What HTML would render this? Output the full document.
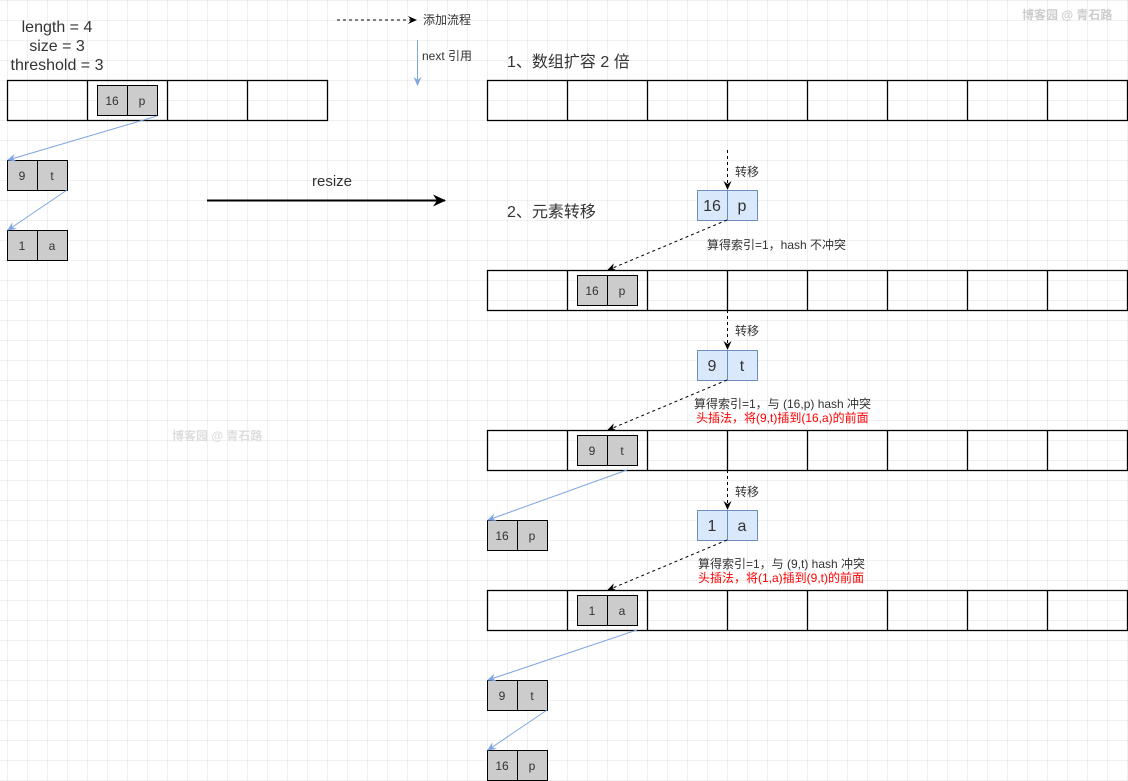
<!DOCTYPE html>
<html><head><meta charset="utf-8"><style>
html,body{margin:0;padding:0;background:#fff}
svg{display:block}
text{font-family:"Liberation Sans","Noto Sans CJK SC",sans-serif;fill:#333}
</style></head><body>
<svg width="1128" height="781" xmlns="http://www.w3.org/2000/svg">
<defs>
<pattern id="g" x="7" y="0" width="20" height="20" patternUnits="userSpaceOnUse">
<path d="M0 0V20M0 0H20" stroke="#e2e2e2" stroke-width="1" fill="none"/>
</pattern>
<marker id="ab" markerWidth="10" markerHeight="10" refX="8" refY="5" orient="auto" markerUnits="userSpaceOnUse"><path d="M0,1 L9,5 L0,9 L3,5z" fill="#000"/></marker>
<marker id="abl" markerWidth="10" markerHeight="10" refX="8" refY="5" orient="auto" markerUnits="userSpaceOnUse"><path d="M0,1 L9,5 L0,9 L3,5z" fill="#7ea6e0"/></marker>
<marker id="abig" markerWidth="14" markerHeight="14" refX="12" refY="7" orient="auto" markerUnits="userSpaceOnUse"><path d="M0,1 L13,7 L0,13 L4,7z" fill="#000"/></marker>
</defs>
<rect width="1128" height="781" fill="url(#g)"/>

<g font-size="16" text-anchor="middle">
<text x="57" y="32">length = 4</text>
<text x="57" y="51">size = 3</text>
<text x="57" y="70">threshold = 3</text>
</g>

<g fill="none" stroke="#000" stroke-width="1.3">
<rect x="7.5" y="80.5" width="320" height="40"/>
<path d="M87.5 80v40M167.5 80v40M247.5 80v40"/>
<rect x="487.5" y="80.5" width="640" height="40"/>
<rect x="487.5" y="270.5" width="640" height="40"/>
<rect x="487.5" y="430.5" width="640" height="40"/>
<rect x="487.5" y="590.5" width="640" height="40"/>
<path d="M567.5 80v40M647.5 80v40M727.5 80v40M807.5 80v40M887.5 80v40M967.5 80v40M1047.5 80v40"/>
<path d="M567.5 270v40M647.5 270v40M727.5 270v40M807.5 270v40M887.5 270v40M967.5 270v40M1047.5 270v40"/>
<path d="M567.5 430v40M647.5 430v40M727.5 430v40M807.5 430v40M887.5 430v40M967.5 430v40M1047.5 430v40"/>
<path d="M567.5 590v40M647.5 590v40M727.5 590v40M807.5 590v40M887.5 590v40M967.5 590v40M1047.5 590v40"/>
</g>

<g font-size="12" text-anchor="middle">
<g transform="translate(97,85)"><rect x=".5" y=".5" width="60" height="30" fill="#ccc" stroke="#000"/><path d="M30.5 0v31" stroke="#000"/><text x="15" y="20">16</text><text x="45" y="20">p</text></g>
<g transform="translate(7,160)"><rect x=".5" y=".5" width="60" height="30" fill="#ccc" stroke="#000"/><path d="M30.5 0v31" stroke="#000"/><text x="15" y="20">9</text><text x="45" y="20">t</text></g>
<g transform="translate(7,230)"><rect x=".5" y=".5" width="60" height="30" fill="#ccc" stroke="#000"/><path d="M30.5 0v31" stroke="#000"/><text x="15" y="20">1</text><text x="45" y="20">a</text></g>
<g transform="translate(577,275)"><rect x=".5" y=".5" width="60" height="30" fill="#ccc" stroke="#000"/><path d="M30.5 0v31" stroke="#000"/><text x="15" y="20">16</text><text x="45" y="20">p</text></g>
<g transform="translate(577,435)"><rect x=".5" y=".5" width="60" height="30" fill="#ccc" stroke="#000"/><path d="M30.5 0v31" stroke="#000"/><text x="15" y="20">9</text><text x="45" y="20">t</text></g>
<g transform="translate(487,520)"><rect x=".5" y=".5" width="60" height="30" fill="#ccc" stroke="#000"/><path d="M30.5 0v31" stroke="#000"/><text x="15" y="20">16</text><text x="45" y="20">p</text></g>
<g transform="translate(577,595)"><rect x=".5" y=".5" width="60" height="30" fill="#ccc" stroke="#000"/><path d="M30.5 0v31" stroke="#000"/><text x="15" y="20">1</text><text x="45" y="20">a</text></g>
<g transform="translate(487,680)"><rect x=".5" y=".5" width="60" height="30" fill="#ccc" stroke="#000"/><path d="M30.5 0v31" stroke="#000"/><text x="15" y="20">9</text><text x="45" y="20">t</text></g>
<g transform="translate(487,750)"><rect x=".5" y=".5" width="60" height="30" fill="#ccc" stroke="#000"/><path d="M30.5 0v31" stroke="#000"/><text x="15" y="20">16</text><text x="45" y="20">p</text></g>
</g>

<g font-size="16" text-anchor="middle">
<g transform="translate(697,190)"><rect x=".5" y=".5" width="60" height="30" fill="#dae8fc" stroke="#6c8ebf"/><path d="M30.5 0v31" stroke="#6c8ebf"/><text x="15" y="21">16</text><text x="45" y="21">p</text></g>
<g transform="translate(697,350)"><rect x=".5" y=".5" width="60" height="30" fill="#dae8fc" stroke="#6c8ebf"/><path d="M30.5 0v31" stroke="#6c8ebf"/><text x="15" y="21">9</text><text x="45" y="21">t</text></g>
<g transform="translate(697,510)"><rect x=".5" y=".5" width="60" height="30" fill="#dae8fc" stroke="#6c8ebf"/><path d="M30.5 0v31" stroke="#6c8ebf"/><text x="15" y="21">1</text><text x="45" y="21">a</text></g>
</g>

<g stroke="#7ea6e0" stroke-width="1" fill="none" marker-end="url(#abl)">
<path d="M157 116L8 160"/>
<path d="M67 190L8 230"/>
<path d="M627 470L488 520"/>
<path d="M637 630L488 680"/>
<path d="M547 710L488 750"/>
<path d="M417.5 40V85"/>
</g>

<g stroke="#000" stroke-width="1" fill="none" stroke-dasharray="3,3" marker-end="url(#ab)">
<path d="M337 20H416"/>
<path d="M727.5 150V189"/>
<path d="M727 220L608 270"/>
<path d="M727.5 310V349"/>
<path d="M727 380L608 430"/>
<path d="M727.5 470V509"/>
<path d="M727 540L608 590"/>
</g>

<path d="M207 200.5H445" stroke="#000" stroke-width="2" marker-end="url(#abig)"/>
<text x="332" y="186" font-size="15" text-anchor="middle">resize</text>

<g font-size="12">
<text x="423" y="24">添加流程</text>
<text x="422" y="60">next 引用</text>
<text x="735" y="176">转移</text>
<text x="735" y="335">转移</text>
<text x="735" y="496">转移</text>
<text x="707" y="249">算得索引=1，hash 不冲突</text>
<text x="694" y="408">算得索引=1，与 (16,p) hash 冲突</text>
<text x="696" y="422" style="fill:#f00">头插法，将(9,t)插到(16,a)的前面</text>
<text x="698" y="568">算得索引=1，与 (9,t) hash 冲突</text>
<text x="698" y="582" style="fill:#f00">头插法，将(1,a)插到(9,t)的前面</text>
</g>
<g font-size="16">
<text x="507" y="67">1、数组扩容 2 倍</text>
<text x="507" y="217">2、元素转移</text>
</g>
<g font-size="12" font-weight="bold">
<text x="1022" y="19" style="fill:#ccc">博客园 @ 青石路</text>
<text x="172" y="440" style="fill:#ddd">博客园 @ 青石路</text>
</g>
</svg>
</body></html>
